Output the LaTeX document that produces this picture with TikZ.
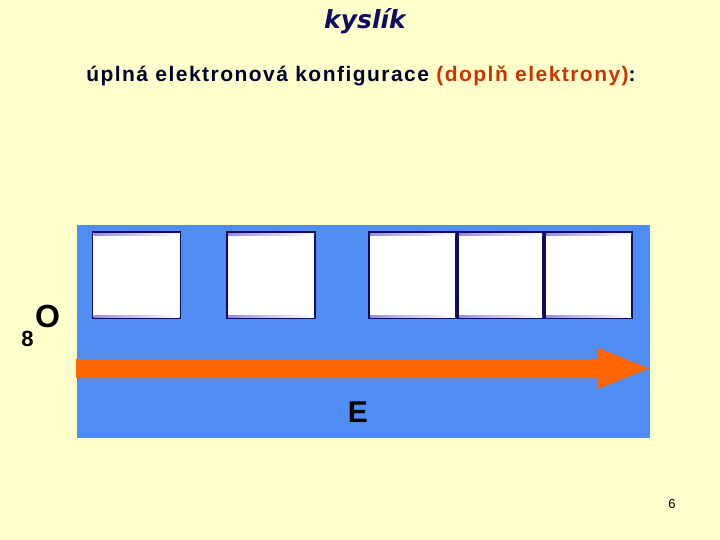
\documentclass[tikz,border=0pt]{standalone}
\usepackage{fontspec}
\setmainfont{Liberation Sans}
\newfontfamily\titlefont{DejaVu Sans}
\newfontfamily\subfont[LetterSpace=7]{Liberation Sans}
\definecolor{bgyellow}{HTML}{FFFFCC}
\definecolor{panelblue}{HTML}{4F8DF2}
\definecolor{arroworange}{HTML}{FF6600}
\definecolor{navy}{HTML}{0D0D66}
\definecolor{lavender}{HTML}{9A8AE0}
\definecolor{textnavy}{HTML}{000033}
\definecolor{textred}{HTML}{CC3300}
\begin{document}
\begin{tikzpicture}[x=1pt,y=-1pt,
  orbital/.style={draw=navy, line width=1.6pt, fill=white, minimum width=88pt, minimum height=86pt, inner sep=0pt, outer sep=0pt},
  lbl/.style={inner sep=0pt, anchor=center}]
\useasboundingbox (0,0) rectangle (720,540);
\fill[bgyellow] (0,0) rectangle (720,540);
\node[lbl, text=navy] (title) at (365,21) {\titlefont\bfseries\itshape\fontsize{25}{27}\selectfont kyslík};
\node[inner sep=0pt, anchor=base] (sub) at (361,82) {\subfont\bfseries\fontsize{21}{24}\selectfont\color{textnavy}úplná elektronová konfigurace \color{textred}(doplň elektrony)\color{textnavy}:};
\fill[panelblue] (77,225) rectangle (650,438);
\node[orbital] (b1) at (136.5,275) {};
\node[orbital] (b2) at (271,275) {};
\node[orbital, minimum width=87pt] (b3) at (412.5,275) {};
\node[orbital, minimum width=85pt] (b4) at (500.5,275) {};
\node[orbital, minimum width=87pt] (b5) at (588.5,275) {};
\foreach \b in {b1,b2,b3,b4,b5}{
  \shade[left color=lavender, right color=white] ([shift={(1,1)}]\b.north west) rectangle ([shift={(-1,3)}]\b.north east);
  \shade[left color=lavender, right color=white] ([shift={(1,-3)}]\b.south west) rectangle ([shift={(-1,-1)}]\b.south east);
}
\fill[arroworange] (76,359) -- (598,359) -- (598,348) -- (649,368.5) -- (598,389) -- (598,378) -- (76,378) -- cycle;
\node[lbl] (E) at (358,412) {\bfseries\fontsize{30}{32}\selectfont E};
\node[lbl] (O) at (47.5,316.5) {\bfseries\fontsize{32}{34}\selectfont O};
\node[lbl] (Z) at (27.5,339) {\bfseries\fontsize{22}{24}\selectfont 8};
\node[lbl] (pg) at (672,504) {\fontsize{13}{15}\selectfont 6};
\end{tikzpicture}
\end{document}
